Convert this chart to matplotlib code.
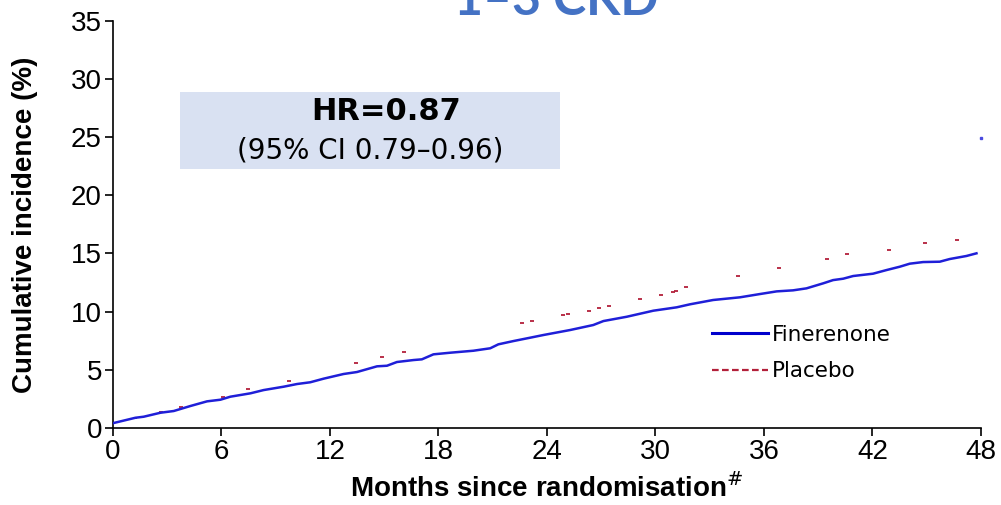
import matplotlib
matplotlib.use("Agg")
import matplotlib.pyplot as plt
from matplotlib.lines import Line2D
from matplotlib.patches import Rectangle

plt.rcParams["font.family"] = ["Liberation Sans", "DejaVu Sans"]

# Finerenone cumulative incidence curve (months, %)
fine_months = [0.0, 0.04, 1.24, 1.70, 2.62, 3.36, 4.28, 5.20, 5.94, 6.49, 7.60, 8.33,
               9.44, 10.18, 10.91, 11.65, 12.75, 13.49, 14.60, 15.15, 15.70, 16.62,
               17.08, 17.72, 18.65, 19.93, 20.86, 21.31, 22.14, 23.07, 23.80, 25.28,
               26.56, 27.12, 28.41, 29.88, 31.17, 31.91, 33.19, 34.67, 35.77, 36.70,
               37.61, 38.35, 39.27, 39.82, 40.38, 40.93, 42.03, 42.77, 43.51, 44.06,
               44.80, 45.72, 46.27, 47.19, 47.75]
fine_pct = [0.40, 0.43, 0.88, 0.97, 1.31, 1.46, 1.89, 2.29, 2.43, 2.69, 2.98, 3.26,
            3.55, 3.78, 3.93, 4.24, 4.64, 4.81, 5.30, 5.35, 5.67, 5.84,
            5.90, 6.33, 6.47, 6.64, 6.85, 7.19, 7.47, 7.76, 7.99, 8.42,
            8.85, 9.19, 9.56, 10.08, 10.37, 10.63, 11.00, 11.23, 11.51, 11.74,
            11.83, 12.00, 12.43, 12.71, 12.83, 13.06, 13.26, 13.57, 13.86, 14.12,
            14.26, 14.29, 14.52, 14.78, 15.01]

# Placebo: only scattered fragments of the dashed curve are visible
plac_months = [1.24, 2.68, 3.78, 6.10, 7.49, 9.75, 13.45, 14.87, 16.07, 22.61, 23.16,
               24.91, 25.18, 26.34, 26.90, 27.45, 29.14, 30.32, 30.95, 31.13, 31.70,
               34.56, 36.84, 39.46, 40.60, 42.90, 44.93, 46.67]
plac_pct = [0.86, 1.37, 1.80, 2.66, 3.35, 4.04, 5.61, 6.13, 6.50, 8.99, 9.22,
            9.68, 9.77, 10.05, 10.28, 10.51, 11.08, 11.40, 11.71, 11.80, 12.09,
            13.06, 13.72, 14.49, 14.95, 15.32, 15.87, 16.18]

# stray point at the end of the finerenone curve
end_month = [48.0]
end_pct = [24.95]

x_ticks = [0, 6, 12, 18, 24, 30, 36, 42, 48]
y_ticks = [0, 5, 10, 15, 20, 25, 30, 35]

BLUE = "#1f1fd8"
RED = "#b3203a"

fig = plt.figure(figsize=(10.01, 5.05), dpi=100)
ax = fig.add_axes([113 / 1001, 1 - 428 / 505, 868 / 1001, (428 - 20.7) / 505])

ax.plot(fine_months, fine_pct, color=BLUE, lw=1.8, zorder=3)
ax.plot(plac_months, plac_pct, ls="none", marker="_", ms=3, mew=1.3, color=RED, zorder=2)
ax.plot(end_month, end_pct, ls="none", marker="s", ms=2, color="#4a4ae0", zorder=3,
        clip_on=False)

ax.set_xlim(0, 48)
ax.set_ylim(0, 35)
ax.set_xticks(x_ticks)
ax.set_yticks(y_ticks)
for s in ["top", "right"]:
    ax.spines[s].set_visible(False)
for s in ["left", "bottom"]:
    ax.spines[s].set_linewidth(1.2)
ax.tick_params(direction="out", length=6, width=1.2, labelsize=20, pad=2)

ax.set_xlabel("Months since randomisation$^{\\#}$", fontsize=20, fontweight="bold",
              labelpad=6)
ax.set_ylabel("Cumulative incidence (%)", fontsize=20, fontweight="bold", labelpad=24)

# HR box
fig.patches.append(Rectangle((180 / 1001, 1 - 169 / 505), 380 / 1001, 77 / 505,
                             transform=fig.transFigure, facecolor="#d9e1f2",
                             edgecolor="none", zorder=0))
fig.text(386 / 1001, 1 - 112 / 505, "HR=0.87", ha="center", va="center",
         fontsize=22, fontweight="bold", family="DejaVu Sans")
fig.text(370 / 1001, 1 - 150 / 505, "(95% CI 0.79\u20130.96)", ha="center", va="center",
         fontsize=20, family="DejaVu Sans")

# title, cut off at the top edge
fig.text(556 / 1001, 1 - 15 / 505, "1\u20133 CKD", ha="center", va="baseline",
         fontsize=36, fontweight="bold", color="#4472c4", family="Lato")

handles = [Line2D([], [], color="#0000cc", lw=2.2),
           Line2D([], [], color=RED, lw=1.6, ls=(0, (3, 1.5)))]
ax.legend(handles, ["Finerenone", "Placebo"], loc="upper left",
          bbox_to_anchor=(712 / 1001, 1 - 325 / 505), bbox_transform=fig.transFigure,
          frameon=False, handlelength=2.6, handletextpad=0.2, borderpad=0,
          borderaxespad=0, labelspacing=0.75,
          prop={"family": "DejaVu Sans", "size": 15.5})

fig.savefig("out.png", dpi=100)
